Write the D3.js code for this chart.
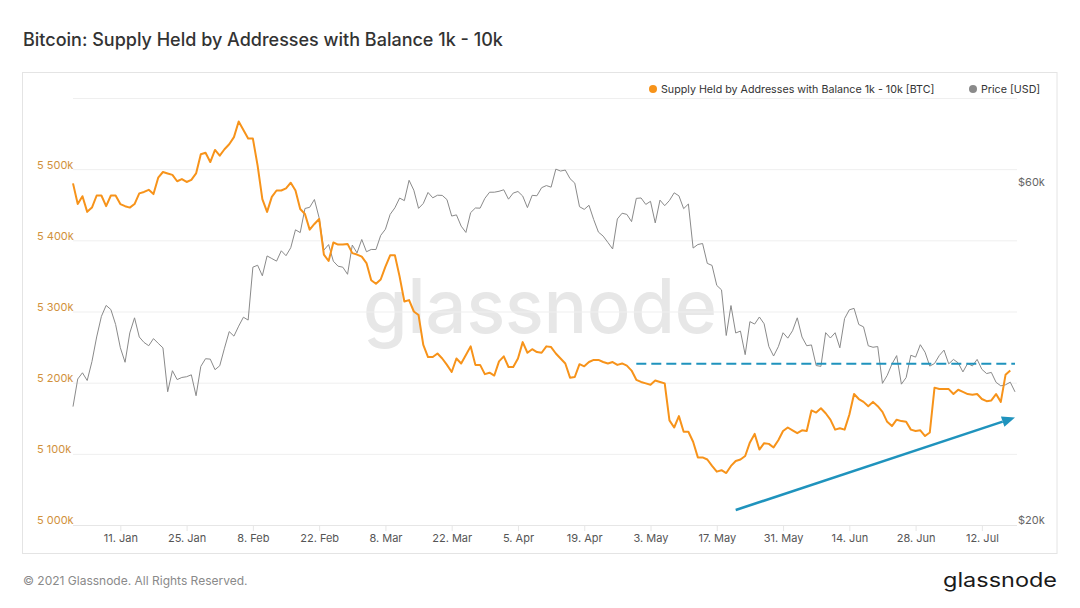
<!DOCTYPE html>
<html>
<head>
<meta charset="utf-8">
<script src="https://cdn.jsdelivr.net/npm/d3@7"></script>
<style>
  html, body { margin: 0; padding: 0; background: #fff; }
  svg { display: block; font-family: Inter, "Noto Sans", sans-serif; }
</style>
</head>
<body>
<svg id="chart" width="1080" height="608"></svg>
<script>
// ---------------- DATA ----------------
const startDate = "2021-01-01";           // first daily observation
const seriesNames = ["Supply Held by Addresses with Balance 1k - 10k [BTC]", "Price [USD]"];

// Supply held (thousand BTC), daily from 1 Jan 2021
const supply = [
  5480,5451,5462,5440,5446,5463,5463,5448,5463,5463,
  5451,5448,5446,5451,5466,5468,5471,5465,5488,5496,
  5494,5492,5483,5486,5482,5485,5494,5521,5523,5510,
  5527,5519,5528,5535,5545,5567,5555,5543,5543,5505,
  5458,5440,5461,5470,5470,5473,5481,5470,5444,5437,
  5415,5423,5430,5380,5371,5397,5394,5394,5395,5382,
  5380,5377,5368,5344,5339,5345,5363,5379,5379,5349,
  5314,5316,5300,5295,5253,5236,5236,5241,5234,5225,
  5215,5234,5227,5239,5251,5225,5225,5212,5214,5210,
  5230,5237,5222,5222,5234,5257,5242,5247,5243,5242,
  5251,5250,5241,5234,5227,5207,5208,5226,5223,5229,
  5232,5232,5229,5227,5229,5225,5227,5224,5217,5204,
  5201,5199,5197,5203,5201,5199,5147,5137,5153,5131,
  5131,5117,5095,5095,5092,5083,5075,5077,5073,5083,
  5090,5092,5097,5116,5128,5106,5115,5114,5109,5119,
  5132,5137,5133,5129,5133,5132,5161,5158,5164,5157,
  5148,5134,5136,5134,5155,5184,5177,5173,5167,5173,
  5167,5159,5145,5139,5148,5146,5145,5134,5132,5133,
  5125,5130,5193,5191,5191,5191,5184,5190,5187,5184,
  5183,5184,5177,5174,5175,5184,5173,5211,5217
];

// BTC price (USD), daily from 1 Jan 2021
const price = [
  29374,32127,32782,31971,33992,36824,39371,40797,40254,38356,
  35566,33922,37316,39187,36825,36178,35792,36630,36070,35548,
  30825,33005,32067,32289,32366,32569,30432,33467,34316,34269,
  33114,33538,35510,37472,36926,38144,39266,38903,46196,46481,
  44918,47909,47504,47105,48717,47945,49199,52149,51679,55888,
  56100,57539,54207,48824,49705,47093,46339,46188,45137,49631,
  48378,50538,48561,48927,48912,51206,52246,54824,56008,57805,
  57332,61243,59302,55907,56804,58870,57858,58346,58313,57523,
  54529,54738,52774,51704,55137,55974,55947,57750,58917,58918,
  59095,59384,57604,58758,59057,58192,56048,58323,58245,59793,
  60204,59893,63503,63109,63314,61572,60683,56216,55724,56473,
  53906,51762,51093,50050,49004,54021,55033,54824,53555,57750,
  57828,56631,57200,53333,57424,56397,57356,58803,58232,55859,
  56704,49150,49716,49880,46760,46456,43537,42909,37002,40782,
  37304,37536,34770,38705,38402,39294,38436,35697,34616,35678,
  37332,36684,37575,39188,36825,35791,35887,33561,33473,37345,
  36702,37334,35552,39097,40219,40406,38347,38053,35787,35615,
  35698,31676,32505,33723,34663,31594,32276,34700,34494,35911,
  35045,33504,33786,34669,35287,33747,34235,33855,32877,33798,
  33520,34240,33155,32702,32822,31780,31421,31533,31796,30817
];

const supplyTicks = [5000, 5100, 5200, 5300, 5400, 5500, 5600];
const supplyTickLabels = ["5 000k", "5 100k", "5 200k", "5 300k", "5 400k", "5 500k", ""];
const priceTicks = [20000, 60000];
const priceTickLabels = ["$20k", "$60k"];
const xTickDates = ["2021-01-11","2021-01-25","2021-02-08","2021-02-22","2021-03-08","2021-03-22",
  "2021-04-05","2021-04-19","2021-05-03","2021-05-17","2021-05-31","2021-06-14","2021-06-28","2021-07-12"];

// annotations (in data units)
const refLine = { from: "2021-04-30", to: "2021-07-19", value: 5226.5 };
const trendArrow = { from: ["2021-05-21", 5021], to: ["2021-07-19", 5151] };

// ---------------- CHART ----------------
(function () {
const svg = d3.select("#chart");
const parse = d3.utcParse("%Y-%m-%d");
const t0 = parse(startDate);
const dayAt = i => d3.utcDay.offset(t0, i);

const pL = 73, pR = 1015, pT = 98, pB = 525;
const x = d3.scaleUtc().domain([t0, dayAt(199)]).range([pL, pR]);
const yS = d3.scaleLinear().domain([5000, 5600]).range([pB, pT]);
const yP = d3.scaleLog().domain([20000, 80000]).range([pB, pT]);

const orange = "#f7931a", grey = "#8a8a8a", teal = "#1f93bd";

// title
svg.append("text").attr("x", 23).attr("y", 46)
  .attr("font-size", 18).attr("fill", "#333").attr("font-weight", 500)
  .text("Bitcoin: Supply Held by Addresses with Balance 1k - 10k");

// panel
svg.append("rect").attr("x", 22.5).attr("y", 72.5).attr("width", 1034.5).attr("height", 481)
  .attr("fill", "#fff").attr("stroke", "#e4e4e4").attr("stroke-width", 1);

// watermark
svg.append("text").attr("x", 363).attr("y", 333)
  .attr("font-family", "Inter, sans-serif").attr("font-size", 75).attr("font-weight", 500)
  .attr("fill", "#e7e7e7").attr("textLength", 354).attr("lengthAdjust", "spacingAndGlyphs")
  .text("glassnode");

// grid + left axis
const gLeft = svg.append("g").attr("transform", `translate(${pL},0)`)
  .call(d3.axisLeft(yS).tickValues(supplyTicks).tickSize(-(pR + 2 - pL))
    .tickFormat((d, i) => supplyTickLabels[i]));
gLeft.select(".domain").remove();
gLeft.selectAll(".tick line").attr("stroke", "#efefef");
gLeft.selectAll(".tick text").attr("x", -36).attr("text-anchor", "start").attr("dy", "-0.1em")
  .attr("fill", "#d1913c").attr("font-size", 11).attr("font-family", "Inter, sans-serif");

// right axis
const gRight = svg.append("g").attr("transform", `translate(${pR + 2},0)`)
  .call(d3.axisRight(yP).tickValues(priceTicks).tickSize(0)
    .tickFormat((d, i) => priceTickLabels[i]));
gRight.select(".domain").remove();
gRight.selectAll(".tick text").attr("x", 1).attr("dy", "-0.1em")
  .attr("fill", "#666").attr("font-size", 11).attr("font-family", "Inter, sans-serif");

// x axis
const gX = svg.append("g").attr("transform", `translate(0,${pB})`)
  .call(d3.axisBottom(x).tickValues(xTickDates.map(parse)).tickSize(6)
    .tickFormat(d3.utcFormat("%-d. %b")));
gX.select(".domain").attr("stroke", "#e6e6e6").attr("d", `M${pL},0.5H${pR + 2}`);
gX.selectAll(".tick line").attr("stroke", "#e6e6e6");
gX.selectAll(".tick text").attr("y", 9).attr("dy", "0.71em")
  .attr("fill", "#555").attr("font-size", 11).attr("font-family", "Inter, sans-serif");

// price line
svg.append("path").datum(price)
  .attr("fill", "none").attr("stroke", grey).attr("stroke-width", 1)
  .attr("stroke-linejoin", "round")
  .attr("d", d3.line().x((d, i) => x(dayAt(i))).y(d => yP(d)));

// supply line
svg.append("path").datum(supply)
  .attr("fill", "none").attr("stroke", orange).attr("stroke-width", 2)
  .attr("stroke-linejoin", "round")
  .attr("d", d3.line().x((d, i) => x(dayAt(i))).y(d => yS(d)));

// dashed reference line
svg.append("line")
  .attr("x1", x(parse(refLine.from))).attr("x2", x(parse(refLine.to)))
  .attr("y1", yS(refLine.value)).attr("y2", yS(refLine.value))
  .attr("stroke", teal).attr("stroke-width", 2).attr("stroke-dasharray", "10,5");

// trend arrow
const ax1 = x(parse(trendArrow.from[0])), ay1 = yS(trendArrow.from[1]);
const ax2 = x(parse(trendArrow.to[0])), ay2 = yS(trendArrow.to[1]);
const ang = Math.atan2(ay2 - ay1, ax2 - ax1);
const hl = 13, hw = 5.5;
const bx = ax2 - hl * Math.cos(ang), by = ay2 - hl * Math.sin(ang);
svg.append("line").attr("x1", ax1).attr("y1", ay1).attr("x2", bx).attr("y2", by)
  .attr("stroke", teal).attr("stroke-width", 2.5);
svg.append("path")
  .attr("d", `M${ax2},${ay2}L${bx - hw * Math.sin(ang)},${by + hw * Math.cos(ang)}L${bx + hw * Math.sin(ang)},${by - hw * Math.cos(ang)}Z`)
  .attr("fill", teal);

// legend
const legend = svg.append("g").attr("font-size", 10.7).attr("fill", "#333");
const lg1 = legend.append("g");
lg1.append("circle").attr("cx", 653).attr("cy", 89).attr("r", 4).attr("fill", orange);
lg1.append("text").attr("x", 661).attr("y", 93).text(seriesNames[0]);
const lg2 = legend.append("g");
lg2.append("circle").attr("cx", 973).attr("cy", 89).attr("r", 4).attr("fill", grey);
lg2.append("text").attr("x", 981).attr("y", 93).text(seriesNames[1]);

// footer
svg.append("text").attr("x", 23).attr("y", 585).attr("font-size", 12).attr("fill", "#8a8a8a")
  .text("© 2021 Glassnode. All Rights Reserved.");
svg.append("text").attr("x", 943).attr("y", 587)
  .attr("font-family", "Inter, sans-serif").attr("font-size", 20).attr("font-weight", 400).attr("fill", "#1a1a1a")
  .attr("textLength", 114).attr("lengthAdjust", "spacingAndGlyphs")
  .text("glassnode");
})();
</script>
</body>
</html>
